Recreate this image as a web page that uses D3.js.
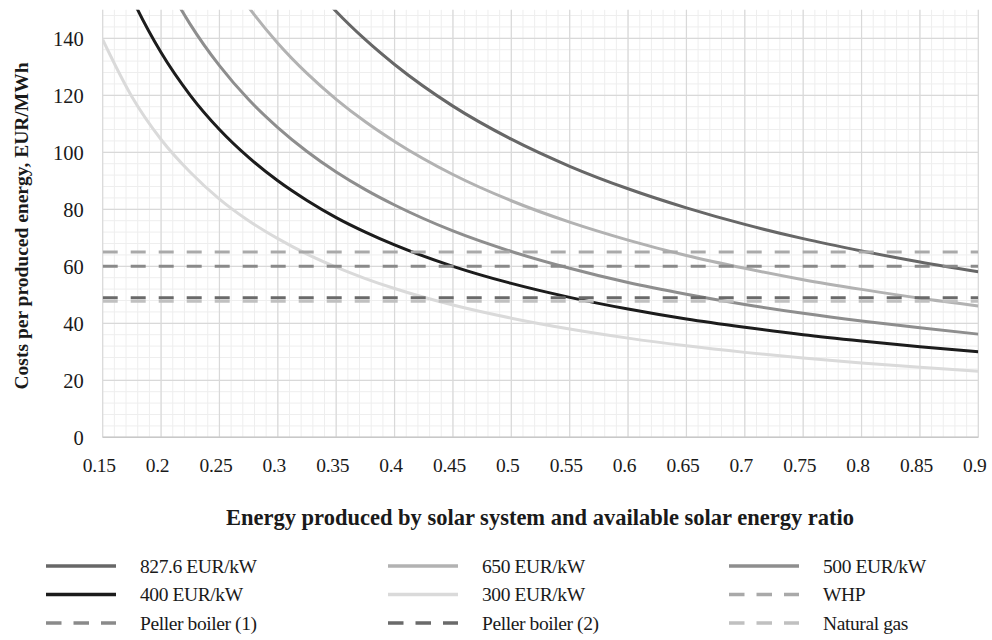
<!DOCTYPE html>
<html>
<head>
<meta charset="utf-8">
<script src="https://cdn.jsdelivr.net/npm/d3@7"></script>
<style>
  html, body { margin: 0; padding: 0; background: #ffffff; }
</style>
</head>
<body>
<svg id="chart" width="992" height="640"></svg>
<script>
// ---- Data ----
const ratio = [0.15, 0.175, 0.2, 0.225, 0.25, 0.275, 0.3, 0.325, 0.35, 0.375, 0.4,
               0.45, 0.5, 0.55, 0.6, 0.65, 0.7, 0.75, 0.8, 0.85, 0.9];

const cost827 = [348.7, 298.9, 261.5, 232.4, 209.2, 190.2, 174.3, 160.9, 149.4, 139.5, 130.8,
                 116.2, 104.6, 95.1, 87.2, 80.5, 74.7, 69.7, 65.4, 61.5, 58.1];
const cost650 = [276.7, 237.1, 207.5, 184.4, 166.0, 150.9, 138.3, 127.7, 118.6, 110.7, 103.8,
                 92.2, 83.0, 75.5, 69.2, 63.8, 59.3, 55.3, 51.9, 48.8, 46.1];
const cost500 = [217.3, 186.3, 163.0, 144.9, 130.4, 118.5, 108.7, 100.3, 93.1, 86.9, 81.5,
                 72.4, 65.2, 59.3, 54.3, 50.2, 46.6, 43.5, 40.8, 38.4, 36.2];
const cost400 = [180.0, 154.3, 135.0, 120.0, 108.0, 98.2, 90.0, 83.1, 77.1, 72.0, 67.5,
                 60.0, 54.0, 49.1, 45.0, 41.5, 38.6, 36.0, 33.8, 31.8, 30.0];
const cost300 = [139.5, 119.5, 104.5, 93.0, 83.6, 76.0, 69.7, 64.3, 59.7, 55.7, 52.2,
                 46.4, 41.8, 38.0, 34.8, 32.1, 29.8, 27.8, 26.1, 24.6, 23.2];

// Reference (flat) costs, EUR/MWh
const refNames  = ["WHP", "Peller boiler (1)", "Peller boiler (2)", "Natural gas"];
const refValues = [65, 60, 49, 47.7];

const curveNames = ["827.6 EUR/kW", "650 EUR/kW", "500 EUR/kW", "400 EUR/kW", "300 EUR/kW"];
const curveValues = [cost827, cost650, cost500, cost400, cost300];

const xTickValues = [0.15, 0.2, 0.25, 0.3, 0.35, 0.4, 0.45, 0.5, 0.55, 0.6, 0.65, 0.7, 0.75, 0.8, 0.85, 0.9];
const yTickValues = [0, 20, 40, 60, 80, 100, 120, 140];

const yTitle = "Costs per produced energy, EUR/MWh";
const xTitle = "Energy produced by solar system and available solar energy ratio";

// ---- Styles ----
const FONT = "Liberation Serif";
const curveColors = {
  "827.6 EUR/kW": "#676767",
  "650 EUR/kW": "#b2b2b2",
  "500 EUR/kW": "#8e8e8e",
  "400 EUR/kW": "#1c1c1c",
  "300 EUR/kW": "#dadada"
};
const refColors = {
  "WHP": "#a9a9a9",
  "Peller boiler (1)": "#8a8a8a",
  "Peller boiler (2)": "#6a6a6a",
  "Natural gas": "#c0c0c0"
};

// ---- Layout ----
const svg = d3.select("#chart").attr("font-family", FONT);
const X0 = 102.7, X1 = 978.3, Y0 = 437.3, Y1 = 9.8;

const x = d3.scaleLinear().domain([0.15, 0.9]).range([X0, X1]);
const y = d3.scaleLinear().domain([0, 150]).range([Y0, Y1]);

// clip
svg.append("defs").append("clipPath").attr("id", "plotclip")
  .append("rect").attr("x", X0).attr("y", Y1).attr("width", X1 - X0).attr("height", Y0 - Y1);

// minor grid
const grid = svg.append("g");
const xMinor = d3.range(0, 76).map(i => +(0.15 + i * 0.01).toFixed(2));
const yMinor = d3.range(0, 38).map(i => i * 4);
grid.selectAll("line.xminor").data(xMinor).join("line")
  .attr("x1", d => x(d)).attr("x2", d => x(d))
  .attr("y1", Y0).attr("y2", Y1)
  .attr("stroke", "#eeeeee").attr("stroke-width", 1);
grid.selectAll("line.yminor").data(yMinor).join("line")
  .attr("x1", X0).attr("x2", X1)
  .attr("y1", d => y(d)).attr("y2", d => y(d))
  .attr("stroke", "#eeeeee").attr("stroke-width", 1);
// major grid
grid.selectAll("line.xmajor").data(xTickValues).join("line")
  .attr("x1", d => x(d)).attr("x2", d => x(d))
  .attr("y1", Y0).attr("y2", Y1)
  .attr("stroke", "#d9d9d9").attr("stroke-width", 1.2);
grid.selectAll("line.ymajor").data(yTickValues).join("line")
  .attr("x1", X0).attr("x2", X1)
  .attr("y1", d => y(d)).attr("y2", d => y(d))
  .attr("stroke", "#d9d9d9").attr("stroke-width", 1.2);

// axes
const xAxis = svg.append("g").attr("transform", `translate(-4,${Y0})`)
  .call(d3.axisBottom(x).tickValues(xTickValues).tickFormat(d3.format("")).tickSize(0).tickPadding(21));
xAxis.attr("font-family", FONT).attr("font-size", 19.5);
xAxis.select(".domain").remove();
xAxis.selectAll("text").attr("font-size", 19.5).attr("fill", "#1a1a1a")
  .attr("font-family", FONT).attr("letter-spacing", -0.3);

svg.append("line").attr("x1", X0).attr("x2", X1).attr("y1", Y0).attr("y2", Y0)
  .attr("stroke", "#c8c8c8").attr("stroke-width", 1.5);

const yAxis = svg.append("g").attr("transform", `translate(${X0},0)`)
  .call(d3.axisLeft(y).tickValues(yTickValues).tickSize(0).tickPadding(19));
yAxis.attr("font-family", FONT).attr("font-size", 20.5);
yAxis.select(".domain").remove();
yAxis.selectAll("text").attr("font-size", 20.5).attr("fill", "#1a1a1a")
  .attr("font-family", FONT).attr("dy", "0.33em");

// curves
const plot = svg.append("g").attr("clip-path", "url(#plotclip)");
const line = d3.line().x(d => x(d[0])).y(d => y(d[1])).curve(d3.curveMonotoneX);
curveNames.forEach((name, i) => {
  plot.append("path")
    .datum(ratio.map((r, j) => [r, curveValues[i][j]]))
    .attr("d", line)
    .attr("fill", "none")
    .attr("stroke", curveColors[name])
    .attr("stroke-width", 3);
});
// reference dashed lines
refNames.forEach((name, i) => {
  plot.append("path")
    .datum([[0.15, refValues[i]], [0.9, refValues[i]]])
    .attr("d", line)
    .attr("fill", "none")
    .attr("stroke", refColors[name])
    .attr("stroke-width", 3)
    .attr("stroke-dasharray", "15,13");
});

// titles
svg.append("text")
  .attr("transform", `translate(28,226) rotate(-90)`)
  .attr("text-anchor", "middle")
  .attr("font-family", FONT)
  .attr("font-weight", "bold").attr("font-size", 19.5).attr("fill", "#1a1a1a")
  .text(yTitle);
svg.append("text")
  .attr("x", 540).attr("y", 524.5)
  .attr("text-anchor", "middle")
  .attr("font-family", FONT)
  .attr("font-weight", "bold").attr("font-size", 22.5).attr("fill", "#1a1a1a")
  .text(xTitle);

// legend
const legendItems = [
  { name: "827.6 EUR/kW", color: curveColors["827.6 EUR/kW"], dash: null },
  { name: "650 EUR/kW", color: curveColors["650 EUR/kW"], dash: null },
  { name: "500 EUR/kW", color: curveColors["500 EUR/kW"], dash: null },
  { name: "400 EUR/kW", color: curveColors["400 EUR/kW"], dash: null },
  { name: "300 EUR/kW", color: curveColors["300 EUR/kW"], dash: null },
  { name: "WHP", color: refColors["WHP"], dash: "15.5,12" },
  { name: "Peller boiler (1)", color: refColors["Peller boiler (1)"], dash: "15.5,12" },
  { name: "Peller boiler (2)", color: refColors["Peller boiler (2)"], dash: "15.5,12" },
  { name: "Natural gas", color: refColors["Natural gas"], dash: "15.5,12" }
];
const colX = [46, 388, 729];
const rowY = [566, 594.5, 623];
const lg = svg.append("g");
legendItems.forEach((it, i) => {
  const cx = colX[i % 3], cy = rowY[Math.floor(i / 3)];
  lg.append("line")
    .attr("x1", cx).attr("x2", cx + 70).attr("y1", cy).attr("y2", cy)
    .attr("stroke", it.color).attr("stroke-width", 3.5)
    .attr("stroke-dasharray", it.dash);
  lg.append("text")
    .attr("x", cx + 94).attr("y", cy + 6.5)
    .attr("font-family", FONT)
    .attr("font-size", 19.5).attr("letter-spacing", -0.4).attr("fill", "#1a1a1a")
    .text(it.name);
});
</script>
</body>
</html>
